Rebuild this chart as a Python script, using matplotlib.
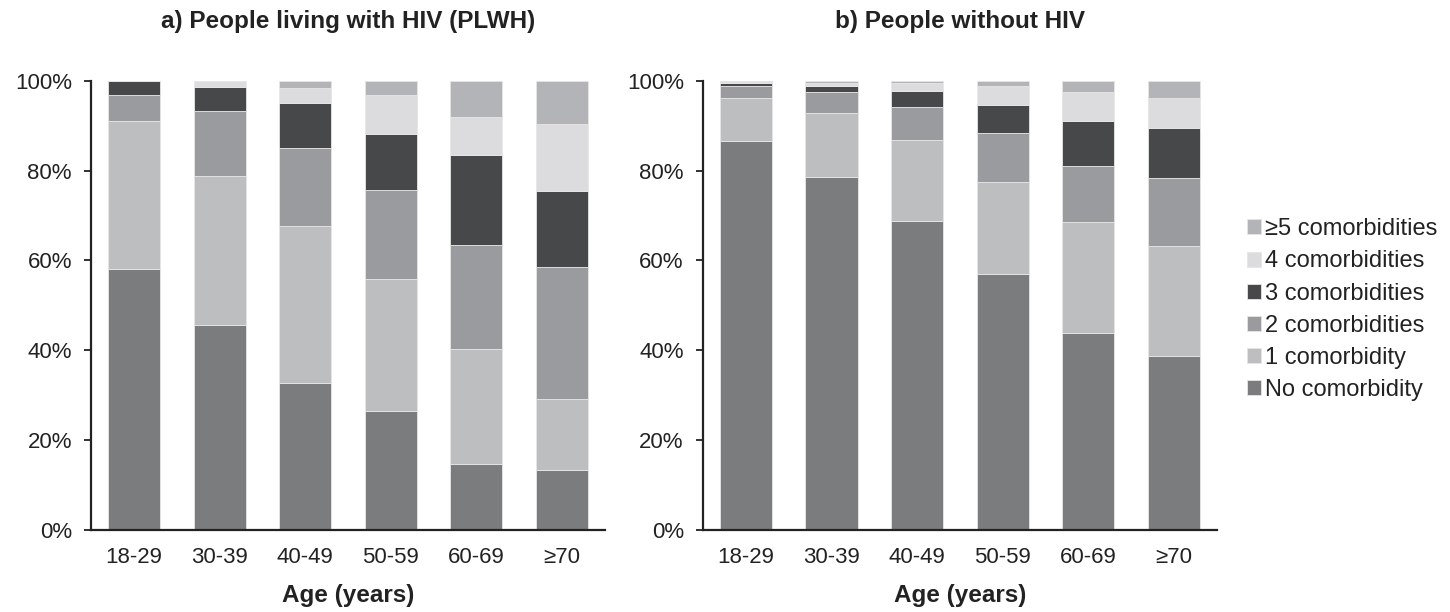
import matplotlib
matplotlib.use("Agg")
import matplotlib.pyplot as plt
import numpy as np
from matplotlib.ticker import PercentFormatter

plt.rcParams['font.family'] = ['Liberation Sans', 'DejaVu Sans']

ages = ["18-29", "30-39", "40-49", "50-59", "60-69", "≥70"]
labels = ["No comorbidity", "1 comorbidity", "2 comorbidities",
          "3 comorbidities", "4 comorbidities", "≥5 comorbidities"]
colors = ["#7b7c7e", "#bdbec0", "#9a9b9e", "#47484a", "#dcdcde", "#b3b4b7"]

# people living with HIV (% per age group)
plwh_none = [58.0, 45.6, 32.7, 26.6, 14.7, 13.3]
plwh_one = [33.1, 33.2, 34.9, 29.3, 25.5, 15.9]
plwh_two = [5.8, 14.4, 17.4, 19.8, 23.2, 29.3]
plwh_three = [3.1, 5.4, 10.0, 12.5, 20.0, 17.0]
plwh_four = [0.0, 1.4, 3.5, 8.6, 8.6, 14.8]
plwh_five = [0.0, 0.0, 1.5, 3.2, 8.0, 9.7]

# people without HIV
neg_none = [86.6, 78.6, 68.7, 57.0, 43.8, 38.8]
neg_one = [9.5, 14.3, 18.2, 20.4, 24.8, 24.5]
neg_two = [2.8, 4.6, 7.2, 11.0, 12.4, 15.0]
neg_three = [0.5, 1.4, 3.7, 6.2, 10.0, 11.3]
neg_four = [0.3, 0.6, 1.7, 4.35, 6.5, 6.5]
neg_five = [0.3, 0.5, 0.5, 1.05, 2.5, 3.9]


def stacked(ax, series, title):
    x = np.arange(len(ages))
    bottom = np.zeros(len(ages))
    bars = []
    for vals, col, lab in zip(series, colors, labels):
        b = ax.bar(x, vals, 0.61, bottom=bottom, color=col, label=lab,
                   edgecolor="#e6e6e6", linewidth=0.6)
        bars.append(b)
        bottom += np.array(vals)
    ax.set_xlim(-0.5, 5.5)
    ax.set_ylim(0, 100)
    ax.set_yticks(range(0, 101, 20))
    ax.yaxis.set_major_formatter(PercentFormatter(decimals=0))
    ax.set_xticks(x)
    ax.set_xticklabels(ages)
    ax.tick_params(axis="x", length=0, pad=12, labelsize=16, colors="#222222")
    ax.tick_params(axis="y", length=5, width=1.3, pad=9, labelsize=16,
                   colors="#222222")
    for s in ["top", "right"]:
        ax.spines[s].set_visible(False)
    for s in ["left", "bottom"]:
        ax.spines[s].set_linewidth(1.6)
        ax.spines[s].set_color("#222222")
    ax.set_title(title, fontsize=17.5, fontweight="bold", pad=38, color="#222222")
    ax.set_xlabel("Age (years)", fontsize=17.5, fontweight="bold", labelpad=12,
                  color="#222222")
    return bars


fig = plt.figure(figsize=(14.5, 6.12), dpi=100)
ax1 = fig.add_axes([0.063, 0.134, 0.354, 0.734])
ax2 = fig.add_axes([0.485, 0.134, 0.354, 0.734])

bars = stacked(ax1, [plwh_none, plwh_one, plwh_two, plwh_three, plwh_four, plwh_five],
               "a) People living with HIV (PLWH)")
stacked(ax2, [neg_none, neg_one, neg_two, neg_three, neg_four, neg_five],
        "b) People without HIV")

fig.legend(bars[::-1], labels[::-1], loc="center left", bbox_to_anchor=(0.845, 0.494),
           frameon=False, fontsize=17, handlelength=0.6, handleheight=0.6,
           handletextpad=0.2, labelspacing=0.43, labelcolor="#222222")

fig.savefig("out.png", dpi=100)
